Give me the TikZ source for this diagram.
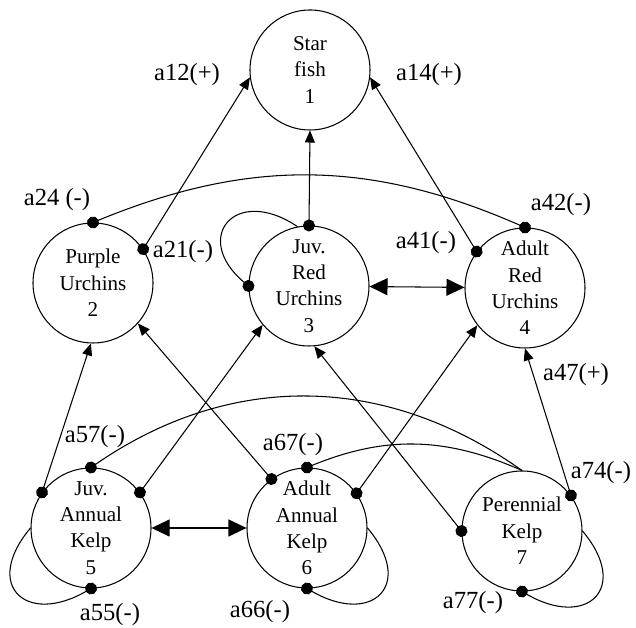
\documentclass[tikz,border=0pt]{standalone}
\usepackage{fontspec}
\setmainfont{Liberation Serif}
\usetikzlibrary{arrows.meta}
\begin{document}
\begin{tikzpicture}[line width=.6pt,
 sp/.style={draw,circle,minimum size=24mm,inner sep=0pt,align=center,font=\fontsize{12}{15}\selectfont},
 lab/.style={font=\fontsize{14}{16}\selectfont},
 act/.style={{Circle[length=2.4mm]}-{Triangle[length=2.4mm,width=2mm]},shorten <=-1.2mm},
 eff/.style={{Circle[length=2.4mm]}-,shorten <=-1.2mm},
 mut/.style={{Circle[length=2.4mm]}-{Circle[length=2.4mm]},shorten <=-1.2mm,shorten >=-1.2mm},
 two/.style={{Triangle[length=3.6mm,width=3.4mm]}-{Triangle[length=3.6mm,width=3.4mm]}}]
\useasboundingbox (0,0) rectangle (12.72,12.56);
\node[sp] (n1) at (6.2,11.16) {Star\\fish\\1};
\node[sp] (n2) at (1.86,6.9) {Purple\\Urchins\\2};
\node[sp] (n3) at (6.18,6.84) {Juv.\\Red\\Urchins\\3};
\node[sp] (n4) at (10.5,6.8) {Adult\\Red\\Urchins\\4};
\node[sp] (n5) at (1.82,2) {Juv.\\Annual\\Kelp\\5};
\node[sp] (n6) at (6.14,2) {Adult\\Annual\\Kelp\\6};
\node[sp] (n7) at (10.44,1.94) {Perennial\\Kelp\\7};
\draw[act] (n2.34) -- (n1.187);
\draw[act] (n3.north) -- (n1.south);
\draw[act] (n4.143) -- (n1.353);
\draw[mut] (n2.north) to[bend left=23] (n4.north);
\draw[eff] (n3.west) .. controls +(140:1.5) and +(146:1.5) .. (n3.101);
\draw[two] (n3) -- (n4);
\draw[two] (n5) -- (n6);
\draw[act] (n5.144) -- (n2.268);
\draw[act] (n5.36) -- (n3.220);
\draw[eff] (n5.north) to[bend left=35] (n7.north);
\draw[eff] (n5.south) .. controls +(210:1.5) and +(230:1.5) .. (n5.west);
\draw[act] (n6.126) -- (n2.318);
\draw[act] (n6.35) -- (n4.218);
\draw[eff] (n6.north) to[bend left=23] (n7.north);
\draw[eff] (n6.south) .. controls +(330:1.5) and +(310:1.5) .. (n6.east);
\draw[act] (n7.west) -- (n3.275);
\draw[act] (n7.36) -- (n4.south);
\draw[eff] (n7.south) .. controls +(330:1.5) and +(310:1.5) .. (n7.east);
\node[lab] (l12) at (3.74,11.06) {a12(+)};
\node[lab] (l14) at (8.58,11.06) {a14(+)};
\node[lab] (l24) at (1.14,8.56) {a24 (-)};
\node[lab] (l21) at (3.66,7.52) {a21(-)};
\node[lab] (l42) at (11.22,8.46) {a42(-)};
\node[lab] (l41) at (8.52,7.7) {a41(-)};
\node[lab] (l47) at (11.52,5.06) {a47(+)};
\node[lab] (l57) at (1.9,3.82) {a57(-)};
\node[lab] (l67) at (5.86,3.66) {a67(-)};
\node[lab] (l74) at (12.02,3.1) {a74(-)};
\node[lab] (l55) at (2.2,0.26) {a55(-)};
\node[lab] (l66) at (5.2,0.32) {a66(-)};
\node[lab] (l77) at (9.46,0.5) {a77(-)};
\end{tikzpicture}
\end{document}
